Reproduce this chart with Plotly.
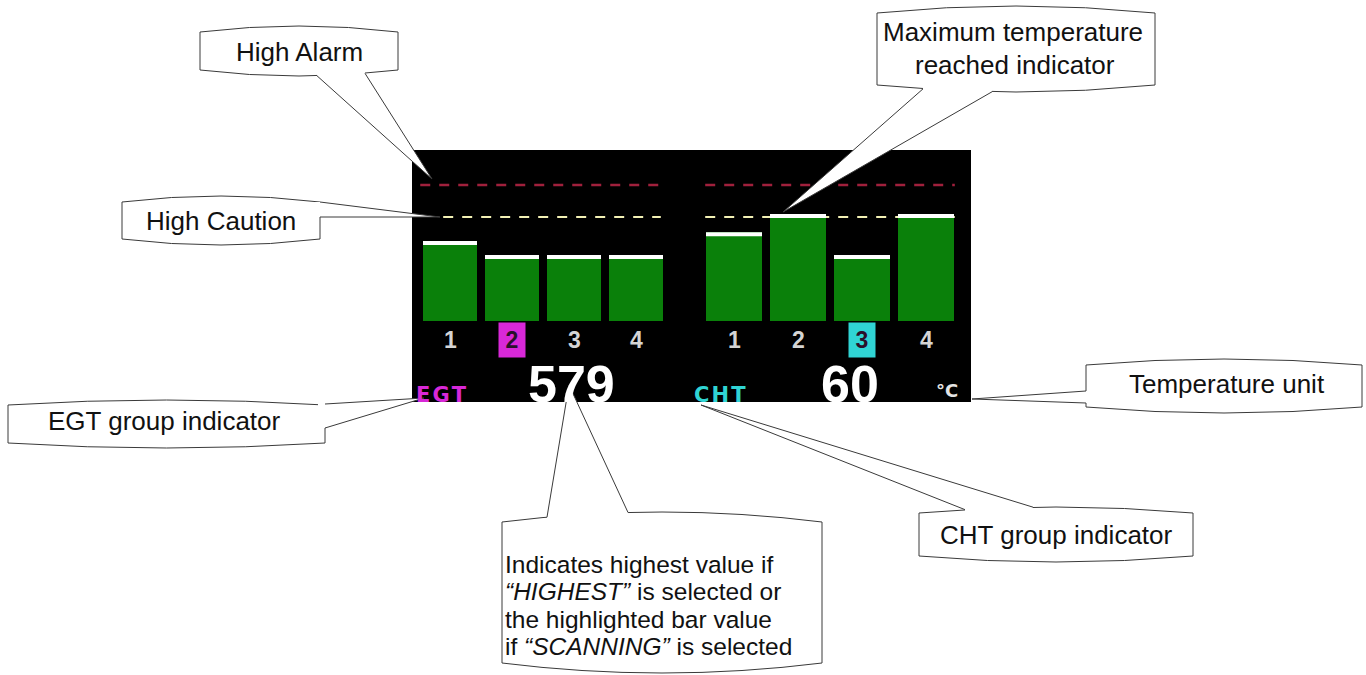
import plotly.graph_objects as go

W, H = 1366, 675

# ---------------- data ----------------
channels = [1, 2, 3, 4]
egt_heights = [46.8, 38.6, 38.6, 38.6]      # bar height, % of display scale
cht_heights = [52.0, 62.6, 38.6, 62.6]      # bar height, % of display scale
caution_level = 60.8                         # high caution, % of scale
alarm_level = 79.5                           # high alarm, % of scale
egt_highlight = 2
cht_highlight = 3
egt_readout = "579"
cht_readout = "60"
unit_label = "°C"
tick_labels = ["1", "2", "3", "4"]

# ---------------- styles ----------------
GREEN = "#0a800a"
RED = "#a0203c"
YELLOW = "#f2f0b4"
MAGENTA = "#d828d8"
CYAN = "#30d4d4"
TICK = "#d4d4d4"
LINE = "#3a3a3a"
TXT = "#111111"
FONT = "Liberation Sans, Arial, sans-serif"

# panel & axes placement (pixels)
PANEL = (412, 150, 971, 402)
EGT_DOM = (419, 667)
CHT_DOM = (702, 958)
BAR_BOTTOM, SCALE_TOP = 321, 150


def px(v):
    return v / W


def py(v):
    return 1 - v / H


fig = go.Figure()
# overlay axis in pixel units (for callouts)
fig.add_trace(go.Scatter(x=[], y=[], xaxis="x", yaxis="y", showlegend=False, hoverinfo="skip"))


def add_group(vals, xa, ya, width):
    fig.add_trace(go.Bar(x=channels, y=vals, xaxis=xa, yaxis=ya, width=width,
                         marker=dict(color=GREEN, line=dict(width=0)),
                         showlegend=False, hoverinfo="skip"))


add_group(egt_heights, "x2", "y2", 0.871)
add_group(cht_heights, "x3", "y3", 0.875)

# threshold lines
fig.add_trace(go.Scatter(x=[0.52, 4.4], y=[alarm_level] * 2, mode="lines", xaxis="x2", yaxis="y2",
                         line=dict(color=RED, width=2.5, dash="10px,9px"), showlegend=False, hoverinfo="skip"))
fig.add_trace(go.Scatter(x=[0.89, 4.4], y=[caution_level] * 2, mode="lines", xaxis="x2", yaxis="y2",
                         line=dict(color=YELLOW, width=2, dash="10px,9px"), showlegend=False, hoverinfo="skip"))
fig.add_trace(go.Scatter(x=[0.55, 4.45], y=[alarm_level] * 2, mode="lines", xaxis="x3", yaxis="y3",
                         line=dict(color=RED, width=2.5, dash="10px,9px"), showlegend=False, hoverinfo="skip"))
fig.add_trace(go.Scatter(x=[0.55, 4.45], y=[caution_level] * 2, mode="lines", xaxis="x3", yaxis="y3",
                         line=dict(color=YELLOW, width=2, dash="10px,9px"), showlegend=False, hoverinfo="skip"))


def max_markers(vals, xa, ya, half):
    xs, ys = [], []
    for c, v in zip(channels, vals):
        xs += [c - half, c + half, None]
        ys += [v - 1.2, v - 1.2, None]
    fig.add_trace(go.Scatter(x=xs, y=ys, mode="lines", xaxis=xa, yaxis=ya,
                             line=dict(color="white", width=4), showlegend=False, hoverinfo="skip"))


max_markers(egt_heights, "x2", "y2", 0.4355)
max_markers(cht_heights, "x3", "y3", 0.4375)

shapes = []
annotations = []

# black display panel
shapes.append(dict(type="rect", xref="x", yref="y", x0=PANEL[0], y0=PANEL[1], x1=PANEL[2], y1=PANEL[3],
                   fillcolor="black", line=dict(width=0), layer="below"))

# channel labels
for xa, hl, hlcol in (("x2", egt_highlight, MAGENTA), ("x3", cht_highlight, CYAN)):
    for c, t in zip(channels, tick_labels):
        a = dict(x=c, y=py(340), xref=xa, yref="paper", text="<b>%s</b>" % t, showarrow=False,
                 font=dict(family=FONT, size=23, color=TICK), xanchor="center", yanchor="middle")
        if c == hl:
            a.update(bgcolor=hlcol, width=24, height=32, font=dict(family=FONT, size=23, color="#2a102a"))
        annotations.append(a)

# readouts
annotations += [
    dict(x=571, y=384, xref="x", yref="y", text="<b>%s</b>" % egt_readout, showarrow=False,
         font=dict(family=FONT, size=52, color="white"), xanchor="center", yanchor="middle"),
    dict(x=850, y=384, xref="x", yref="y", text="<b>%s</b>" % cht_readout, showarrow=False,
         font=dict(family=FONT, size=52, color="white"), xanchor="center", yanchor="middle"),
    dict(x=947, y=390, xref="x", yref="y", text="<b>%s</b>" % unit_label, showarrow=False,
         font=dict(family="DejaVu Sans", size=18, color="#e4e4e4"), xanchor="center", yanchor="middle"),
    dict(x=441, y=395, xref="x", yref="y", text="<b>E\u200aG\u200aT</b>", showarrow=False,
         font=dict(family="DejaVu Sans", size=21, color=MAGENTA), xanchor="center", yanchor="middle"),
    dict(x=720, y=395, xref="x", yref="y", text="<b>C\u200aH\u200aT</b>", showarrow=False,
         font=dict(family="DejaVu Sans", size=21, color=CYAN), xanchor="center", yanchor="middle"),
]


def callout(x0, y0, x1, y1, b, side, a1, a2, tip, inset=7):
    xm = (x0 + x1) / 2
    shapes.append(dict(type="path", xref="x", yref="y", layer="above",
                       path=f"M{x0},{y0 + b} Q{xm},{y0 - b} {x1},{y0 + b} L{x1},{y1 - b} "
                            f"Q{xm},{y1 + b} {x0},{y1 - b} Z",
                       fillcolor="white", line=dict(color=LINE, width=1)))

    def edge(v):
        if side in ("top", "bottom"):
            t = (v - x0) / (x1 - x0)
            yy = y0 + b - 4 * b * t * (1 - t) if side == "top" else y1 - b + 4 * b * t * (1 - t)
            return (v, yy)
        return (x0 if side == "left" else x1, v)

    p1, p2 = edge(a1), edge(a2)
    d = {"top": (0, inset), "bottom": (0, -inset), "left": (inset, 0), "right": (-inset, 0)}[side]
    q1 = (p1[0] + d[0], p1[1] + d[1])
    q2 = (p2[0] + d[0], p2[1] + d[1])
    shapes.append(dict(type="path", xref="x", yref="y", layer="above",
                       path=f"M{q1[0]},{q1[1]} L{p1[0]},{p1[1]} L{tip[0]},{tip[1]} L{p2[0]},{p2[1]} "
                            f"L{q2[0]},{q2[1]} Z",
                       fillcolor="white", line=dict(width=0)))
    shapes.append(dict(type="path", xref="x", yref="y", layer="above",
                       path=f"M{p1[0]},{p1[1]} L{tip[0]},{tip[1]} L{p2[0]},{p2[1]}",
                       fillcolor="rgba(0,0,0,0)", line=dict(color=LINE, width=1)))


callout(200, 26, 398, 76, 6, "bottom", 317, 365, (432, 179))
callout(122, 196, 320, 245, 6, "right", 202, 217, (440, 217))
callout(877, 6, 1155, 92, 7, "bottom", 923, 992, (783, 212))
callout(8, 400, 325, 448, 5, "right", 404, 428, (424, 398))
callout(1086, 359, 1362, 413, 6, "left", 391, 403, (972, 399))
callout(919, 507, 1193, 562, 6, "top", 965, 1033, (701, 405))
callout(502, 512, 822, 673, 10, "top", 547, 628, (569, 385))


def label(x, y, text, anchor="center", size=26):
    annotations.append(dict(x=x, y=y, xref="x", yref="y", text=text, showarrow=False,
                            font=dict(family=FONT, size=size, color=TXT), xanchor=anchor, yanchor="middle"))


label(299, 52, "High Alarm")
label(221, 221, "High Caution")
label(1013, 32, "Maximum temperature")
label(1015, 65, "reached indicator")
label(164, 421, "EGT group indicator")
label(1227, 384, "Temperature unit")
label(1056, 535, "CHT group indicator")
label(503, 564, "Indicates highest value if", "left", 24.5)
label(503, 591.6, "<i>“HIGHEST”</i> is selected or", "left", 24.5)
label(503, 619.2, "the highlighted bar value", "left", 24.5)
label(503, 646.8, "if <i>“SCANNING”</i> is selected", "left", 24.5)

ax_off = dict(visible=False, showgrid=False, zeroline=False, fixedrange=True)
fig.update_layout(
    width=W, height=H, margin=dict(l=0, r=0, t=0, b=0, pad=0),
    paper_bgcolor="white", plot_bgcolor="rgba(0,0,0,0)", showlegend=False,
    xaxis=dict(domain=[0, 1], range=[0, W], anchor="y", **ax_off),
    yaxis=dict(domain=[0, 1], range=[H, 0], anchor="x", **ax_off),
    xaxis2=dict(domain=[px(EGT_DOM[0]), px(EGT_DOM[1])], range=[0.5, 4.5], anchor="y2", **ax_off),
    yaxis2=dict(domain=[py(BAR_BOTTOM), py(SCALE_TOP)], range=[0, 100], anchor="x2", **ax_off),
    xaxis3=dict(domain=[px(CHT_DOM[0]), px(CHT_DOM[1])], range=[0.5, 4.5], anchor="y3", **ax_off),
    yaxis3=dict(domain=[py(BAR_BOTTOM), py(SCALE_TOP)], range=[0, 100], anchor="x3", **ax_off),
    shapes=shapes, annotations=annotations,
)

fig.write_html("out.html", config={"displayModeBar": False, "staticPlot": True},
               post_script="document.body.style.margin='0';document.body.style.overflow='hidden';")
